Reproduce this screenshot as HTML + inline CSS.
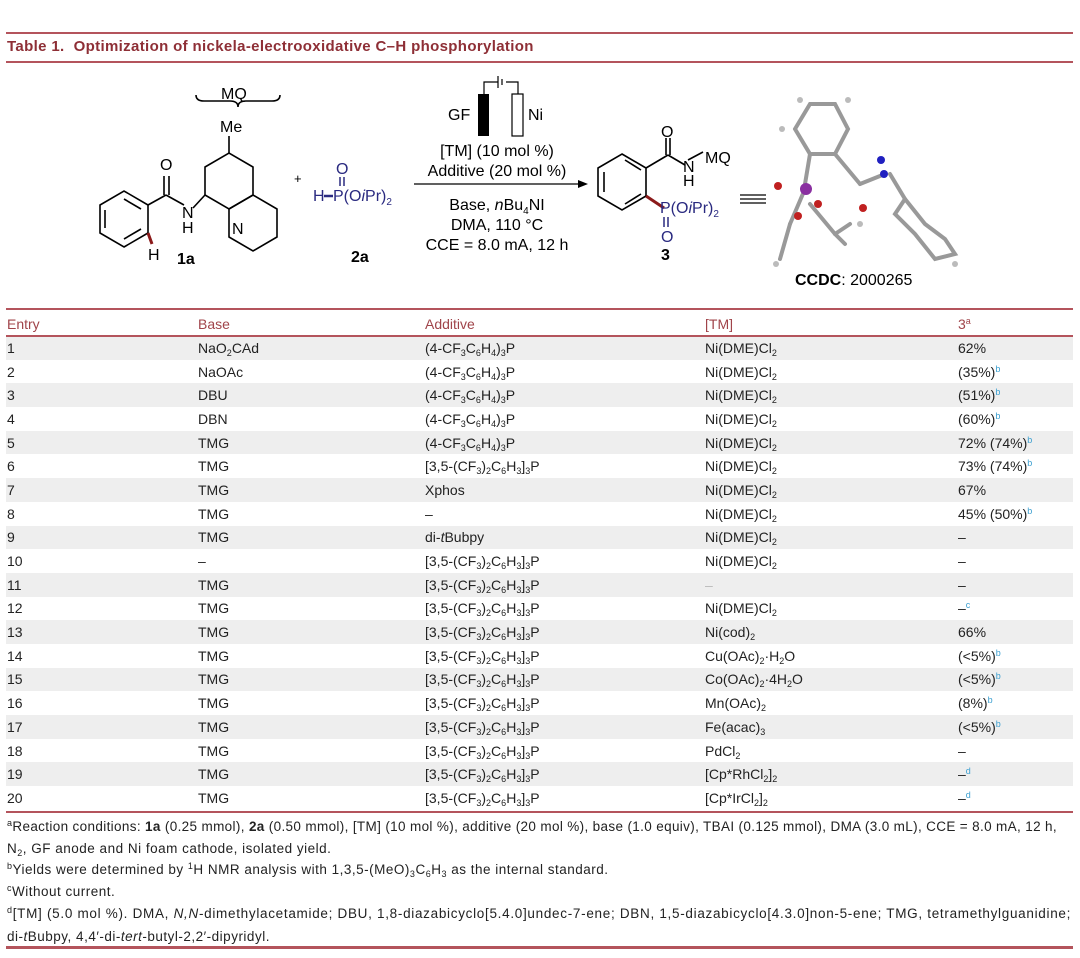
<!DOCTYPE html>
<html><head><meta charset="utf-8"><style>
body{margin:0;width:1080px;height:958px;background:#fff;font-family:"Liberation Sans",sans-serif;position:relative;overflow:hidden;color:#222}
.hl{position:absolute;left:6px;width:1067px;background:#b4545c}
.t{position:absolute;white-space:nowrap}
table{position:absolute;left:6px;top:312px;width:1067px;border-collapse:collapse;font-size:14px}
td{height:23.7px;padding:0 0 0 1px;vertical-align:middle;line-height:14px}
tr.h td{color:#a0444a;height:24px}
tbody tr:nth-child(odd) td{background:#eeeeee}
sub{font-size:9px;vertical-align:-3px;line-height:0}
sup{font-size:9px;vertical-align:5px;line-height:0}
sup.b{color:#3b9fd0}
.fn{position:absolute;left:7px;font-size:13.5px;color:#222;white-space:nowrap}
</style></head><body>
<div class="hl" style="top:32px;height:2px"></div>
<div class="t" style="left:7px;top:38px;font-size:15px;font-weight:bold;color:#8e2f36;letter-spacing:0.35px">Table 1.&nbsp; Optimization of nickela-electrooxidative C–H phosphorylation</div>
<div class="hl" style="top:61px;height:2px"></div>

<svg style="position:absolute;left:0;top:64px" width="1080" height="240" font-family="Liberation Sans" font-size="16">
<g stroke="#000" stroke-width="1.6" fill="none">
<polygon points="124,183 148,169 148,141 124,127 100,141 100,169"/>
<line x1="105" y1="146" x2="105" y2="164"/><line x1="124" y1="135" x2="141" y2="145"/><line x1="141" y1="165" x2="124" y2="175"/>
<line x1="148" y1="141" x2="166" y2="131"/><line x1="166" y1="131" x2="184" y2="141"/>
<line x1="164" y1="131" x2="164" y2="112"/><line x1="169" y1="131" x2="169" y2="112"/>
<line x1="193" y1="144" x2="205" y2="131"/>
<polygon points="205,131 205,103 229,89 253,103 253,131 229,145"/>
<polygon points="229,145 253,131 277,145 277,173 253,187 229,173" />
<line x1="229" y1="89" x2="229" y2="72"/>
<path d="M196 31 q0 6 8 6 h26 q8 0 8 6 q0 -6 8 -6 h26 q8 0 8 -6"/>
</g>
<line x1="148" y1="169" x2="152" y2="180" stroke="#8b1a1a" stroke-width="3"/>
<text x="221" y="35">MQ</text><text x="220" y="68">Me</text>
<text x="160" y="106">O</text><text x="182" y="154">N</text><text x="182" y="169">H</text>
<text x="232" y="170">N</text><text x="148" y="196">H</text>
<text x="177" y="200" font-weight="bold" dx="0" dy="0">1a</text>
<text x="294" y="119" font-size="13">+</text>
<g fill="#2a2a80"><text x="336" y="110">O</text><text x="313" y="137">H</text><text x="333" y="137">P(O<tspan font-style="italic">i</tspan>Pr)<tspan font-size="10" dy="4">2</tspan></text></g>
<line x1="340" y1="113" x2="340" y2="122" stroke="#2a2a80" stroke-width="1.5"/><line x1="344" y1="113" x2="344" y2="122" stroke="#2a2a80" stroke-width="1.5"/>
<line x1="324" y1="132" x2="333" y2="132" stroke="#2a2a80" stroke-width="2.5"/>
<text x="351" y="198" font-weight="bold">2a</text>
<rect x="478" y="30" width="11" height="42" fill="#000"/><rect x="512" y="30" width="11" height="42" fill="none" stroke="#000" stroke-width="1.2"/>
<path d="M484 30 v-12 h14 M506 18 h12 v12 M498 12 v12 M502 15 v6" stroke="#000" fill="none" stroke-width="1.2"/>
<text x="448" y="56">GF</text><text x="528" y="56">Ni</text>
<g text-anchor="middle"><text x="497" y="92">[TM] (10 mol %)</text><text x="497" y="112">Additive (20 mol %)</text>
<text x="497" y="146">Base, <tspan font-style="italic">n</tspan>Bu<tspan font-size="10" dy="4">4</tspan><tspan dy="-4">NI</tspan></text>
<text x="497" y="166">DMA, 110 °C</text><text x="497" y="186">CCE = 8.0 mA, 12 h</text></g>
<line x1="414" y1="120" x2="582" y2="120" stroke="#000" stroke-width="1.2"/><polygon points="588,120 578,116 578,124" fill="#000"/>
<g stroke="#000" stroke-width="1.6" fill="none">
<polygon points="622,90 646,104 646,132 622,146 598,132 598,104"/>
<line x1="604" y1="108" x2="604" y2="128"/><line x1="625" y1="96" x2="641" y2="106"/><line x1="641" y1="130" x2="625" y2="140"/>
<line x1="646" y1="104" x2="668" y2="91"/><line x1="668" y1="91" x2="685" y2="101"/>
<line x1="666" y1="91" x2="666" y2="74"/><line x1="670" y1="91" x2="670" y2="74"/>
<line x1="688" y1="96" x2="703" y2="88"/>
</g>
<line x1="646" y1="132" x2="664" y2="144" stroke="#8b1a1a" stroke-width="3"/>
<text x="661" y="73">O</text><text x="683" y="108">N</text><text x="683" y="122">H</text><text x="705" y="99">MQ</text>
<g fill="#2a2a80"><text x="660" y="149">P(O<tspan font-style="italic">i</tspan>Pr)<tspan font-size="10" dy="4">2</tspan></text><text x="661" y="178">O</text></g>
<line x1="664" y1="153" x2="664" y2="163" stroke="#2a2a80" stroke-width="1.5"/><line x1="668" y1="153" x2="668" y2="163" stroke="#2a2a80" stroke-width="1.5"/>
<text x="661" y="196" font-weight="bold">3</text>
<g stroke="#000" stroke-width="1.2"><line x1="740" y1="131" x2="766" y2="131"/><line x1="740" y1="135" x2="766" y2="135"/><line x1="740" y1="139" x2="766" y2="139"/></g>
<g stroke="#999" stroke-width="4" fill="none" stroke-linecap="round">
<polyline points="795,65 810,40 835,40 848,65 835,90 810,90 795,65"/>
<line x1="810" y1="90" x2="805" y2="120"/><line x1="835" y1="90" x2="860" y2="120"/>
<line x1="860" y1="120" x2="885" y2="110"/><line x1="890" y1="110" x2="905" y2="135"/>
<polyline points="905,135 925,160 945,175 955,190 935,195 915,170 895,150 905,135"/>
<line x1="805" y1="125" x2="790" y2="160"/><line x1="790" y1="160" x2="780" y2="195"/>
<line x1="810" y1="140" x2="835" y2="170"/><line x1="835" y1="170" x2="850" y2="160"/><line x1="835" y1="170" x2="845" y2="180"/>
</g>
<g fill="#bbb"><circle cx="800" cy="36" r="3"/><circle cx="848" cy="36" r="3"/><circle cx="782" cy="65" r="3"/><circle cx="776" cy="200" r="3"/><circle cx="860" cy="160" r="3"/><circle cx="955" cy="200" r="3"/></g>
<circle cx="806" cy="125" r="6" fill="#8a2fa0"/><circle cx="778" cy="122" r="4" fill="#c02020"/><circle cx="818" cy="140" r="4" fill="#c02020"/><circle cx="798" cy="152" r="4" fill="#c02020"/>
<circle cx="863" cy="144" r="4" fill="#c02020"/><circle cx="884" cy="110" r="4" fill="#2020c0"/><circle cx="881" cy="96" r="4" fill="#2020c0"/>
<text x="795" y="221"><tspan font-weight="bold">CCDC</tspan>: 2000265</text>
</svg>

<div class="hl" style="top:308px;height:2px"></div>
<table>
<thead><tr class="h"><td style="width:190px">Entry</td><td style="width:226px">Base</td><td style="width:279px">Additive</td><td style="width:252px">[TM]</td><td>3<sup>a</sup></td></tr></thead>
<tbody>
<tr><td>1</td><td>NaO<sub>2</sub>CAd</td><td>(4-CF<sub>3</sub>C<sub>6</sub>H<sub>4</sub>)<sub>3</sub>P</td><td>Ni(DME)Cl<sub>2</sub></td><td>62%</td></tr>
<tr><td>2</td><td>NaOAc</td><td>(4-CF<sub>3</sub>C<sub>6</sub>H<sub>4</sub>)<sub>3</sub>P</td><td>Ni(DME)Cl<sub>2</sub></td><td>(35%)<sup class="b">b</sup></td></tr>
<tr><td>3</td><td>DBU</td><td>(4-CF<sub>3</sub>C<sub>6</sub>H<sub>4</sub>)<sub>3</sub>P</td><td>Ni(DME)Cl<sub>2</sub></td><td>(51%)<sup class="b">b</sup></td></tr>
<tr><td>4</td><td>DBN</td><td>(4-CF<sub>3</sub>C<sub>6</sub>H<sub>4</sub>)<sub>3</sub>P</td><td>Ni(DME)Cl<sub>2</sub></td><td>(60%)<sup class="b">b</sup></td></tr>
<tr><td>5</td><td>TMG</td><td>(4-CF<sub>3</sub>C<sub>6</sub>H<sub>4</sub>)<sub>3</sub>P</td><td>Ni(DME)Cl<sub>2</sub></td><td>72% (74%)<sup class="b">b</sup></td></tr>
<tr><td>6</td><td>TMG</td><td>[3,5-(CF<sub>3</sub>)<sub>2</sub>C<sub>6</sub>H<sub>3</sub>]<sub>3</sub>P</td><td>Ni(DME)Cl<sub>2</sub></td><td>73% (74%)<sup class="b">b</sup></td></tr>
<tr><td>7</td><td>TMG</td><td>Xphos</td><td>Ni(DME)Cl<sub>2</sub></td><td>67%</td></tr>
<tr><td>8</td><td>TMG</td><td>–</td><td>Ni(DME)Cl<sub>2</sub></td><td>45% (50%)<sup class="b">b</sup></td></tr>
<tr><td>9</td><td>TMG</td><td>di-<i>t</i>Bubpy</td><td>Ni(DME)Cl<sub>2</sub></td><td>–</td></tr>
<tr><td>10</td><td>–</td><td>[3,5-(CF<sub>3</sub>)<sub>2</sub>C<sub>6</sub>H<sub>3</sub>]<sub>3</sub>P</td><td>Ni(DME)Cl<sub>2</sub></td><td>–</td></tr>
<tr><td>11</td><td>TMG</td><td>[3,5-(CF<sub>3</sub>)<sub>2</sub>C<sub>6</sub>H<sub>3</sub>]<sub>3</sub>P</td><td style="color:#bbb">–</td><td>–</td></tr>
<tr><td>12</td><td>TMG</td><td>[3,5-(CF<sub>3</sub>)<sub>2</sub>C<sub>6</sub>H<sub>3</sub>]<sub>3</sub>P</td><td>Ni(DME)Cl<sub>2</sub></td><td>–<sup class="b">c</sup></td></tr>
<tr><td>13</td><td>TMG</td><td>[3,5-(CF<sub>3</sub>)<sub>2</sub>C<sub>6</sub>H<sub>3</sub>]<sub>3</sub>P</td><td>Ni(cod)<sub>2</sub></td><td>66%</td></tr>
<tr><td>14</td><td>TMG</td><td>[3,5-(CF<sub>3</sub>)<sub>2</sub>C<sub>6</sub>H<sub>3</sub>]<sub>3</sub>P</td><td>Cu(OAc)<sub>2</sub>·H<sub>2</sub>O</td><td>(&lt;5%)<sup class="b">b</sup></td></tr>
<tr><td>15</td><td>TMG</td><td>[3,5-(CF<sub>3</sub>)<sub>2</sub>C<sub>6</sub>H<sub>3</sub>]<sub>3</sub>P</td><td>Co(OAc)<sub>2</sub>·4H<sub>2</sub>O</td><td>(&lt;5%)<sup class="b">b</sup></td></tr>
<tr><td>16</td><td>TMG</td><td>[3,5-(CF<sub>3</sub>)<sub>2</sub>C<sub>6</sub>H<sub>3</sub>]<sub>3</sub>P</td><td>Mn(OAc)<sub>2</sub></td><td>(8%)<sup class="b">b</sup></td></tr>
<tr><td>17</td><td>TMG</td><td>[3,5-(CF<sub>3</sub>)<sub>2</sub>C<sub>6</sub>H<sub>3</sub>]<sub>3</sub>P</td><td>Fe(acac)<sub>3</sub></td><td>(&lt;5%)<sup class="b">b</sup></td></tr>
<tr><td>18</td><td>TMG</td><td>[3,5-(CF<sub>3</sub>)<sub>2</sub>C<sub>6</sub>H<sub>3</sub>]<sub>3</sub>P</td><td>PdCl<sub>2</sub></td><td>–</td></tr>
<tr><td>19</td><td>TMG</td><td>[3,5-(CF<sub>3</sub>)<sub>2</sub>C<sub>6</sub>H<sub>3</sub>]<sub>3</sub>P</td><td>[Cp*RhCl<sub>2</sub>]<sub>2</sub></td><td>–<sup class="b">d</sup></td></tr>
<tr><td>20</td><td>TMG</td><td>[3,5-(CF<sub>3</sub>)<sub>2</sub>C<sub>6</sub>H<sub>3</sub>]<sub>3</sub>P</td><td>[Cp*IrCl<sub>2</sub>]<sub>2</sub></td><td>–<sup class="b">d</sup></td></tr>
</tbody></table>
<div class="hl" style="top:335px;height:2px"></div>
<div class="hl" style="top:811px;height:2px"></div>
<div class="fn" style="top:819px;letter-spacing:0.35px"><sup>a</sup>Reaction conditions: <b>1a</b> (0.25 mmol), <b>2a</b> (0.50 mmol), [TM] (10 mol %), additive (20 mol %), base (1.0 equiv), TBAI (0.125 mmol), DMA (3.0 mL), CCE = 8.0 mA, 12 h,</div>
<div class="fn" style="top:841px;letter-spacing:0.5px">N<sub>2</sub>, GF anode and Ni foam cathode, isolated yield.</div>
<div class="fn" style="top:862px;letter-spacing:0.5px"><sup>b</sup>Yields were determined by <sup>1</sup>H NMR analysis with 1,3,5-(MeO)<sub>3</sub>C<sub>6</sub>H<sub>3</sub> as the internal standard.</div>
<div class="fn" style="top:884px;letter-spacing:0.5px"><sup>c</sup>Without current.</div>
<div class="fn" style="top:906px;letter-spacing:0.7px"><sup>d</sup>[TM] (5.0 mol %). DMA, <i>N,N</i>-dimethylacetamide; DBU, 1,8-diazabicyclo[5.4.0]undec-7-ene; DBN, 1,5-diazabicyclo[4.3.0]non-5-ene; TMG, tetramethylguanidine;</div>
<div class="fn" style="top:929px;letter-spacing:0.5px">di-<i>t</i>Bubpy, 4,4′-di-<i>tert</i>-butyl-2,2′-dipyridyl.</div>
<div class="hl" style="top:946px;height:3px"></div>
</body></html>
